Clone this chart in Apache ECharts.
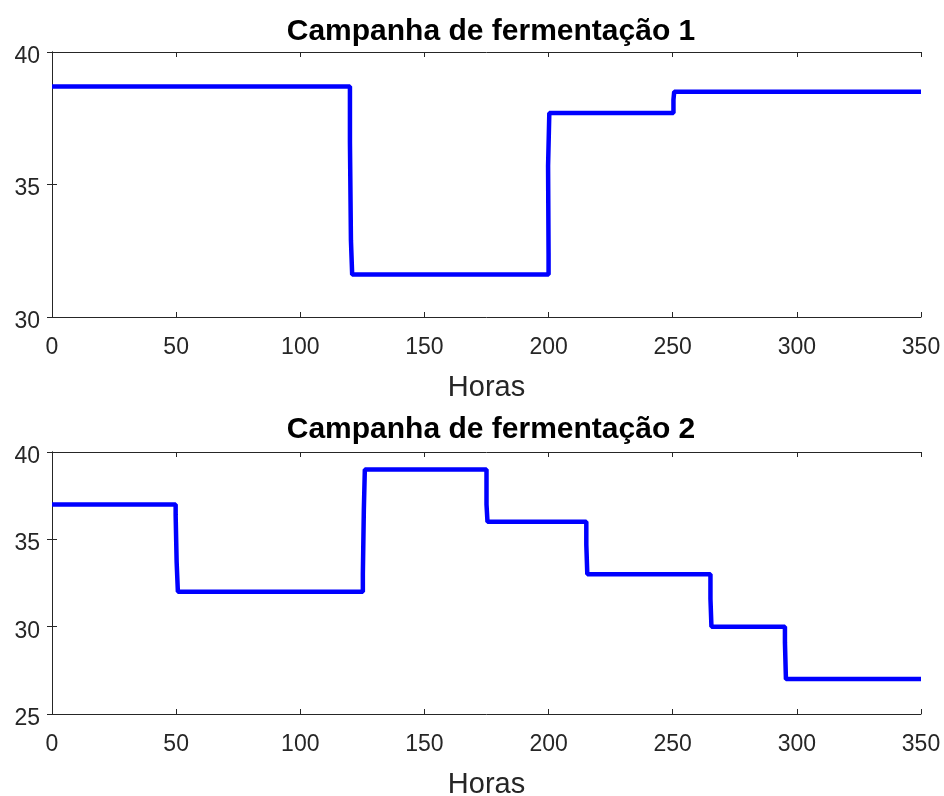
<!DOCTYPE html>
<html>
<head>
<meta charset="utf-8">
<script src="https://cdn.jsdelivr.net/npm/echarts@6/dist/echarts.min.js"></script>
<style>html,body{margin:0;padding:0;background:#fff}#c{width:944px;height:796px}</style>
</head>
<body>
<div id="c"></div>
<script>
// Campanha 1
var hours1 = [0, 120.0, 120.0, 120.4, 120.4, 120.9, 120.9, 200.0, 200.0, 199.8, 199.8, 200.3, 200.3, 250.3, 250.3, 250.6, 250.6, 350];
var temp1  = [38.7, 38.7, 36.6, 36.6, 32.9, 32.9, 31.6, 31.6, 32.4, 32.4, 35.7, 35.7, 37.7, 37.7, 38.2, 38.2, 38.5, 38.5];
// Campanha 2
var hours2 = [0, 49.8, 49.8, 50.2, 50.2, 50.7, 50.7, 125.2, 125.2, 125.6, 125.6, 126.0, 126.0, 175, 175, 175.4, 175.4, 215.2, 215.2, 215.6, 215.6, 265.2, 265.2, 265.6, 265.6, 295.2, 295.2, 295.6, 295.6, 350];
var temp2  = [37, 37, 36.4, 36.4, 33.7, 33.7, 32, 32, 33, 33, 36.7, 36.7, 39, 39, 37, 37, 36, 36, 34.7, 34.7, 33, 33, 31.6, 31.6, 30, 30, 29.1, 29.1, 27, 27];

var titles = ['Campanha de fermentação 1', 'Campanha de fermentação 2'];
var xLabel = 'Horas';
var xTicks = [0, 50, 100, 150, 200, 250, 300, 350];
var yRange1 = [30, 40, 5];
var yRange2 = [25, 40, 5];

function zip(a, b) { return a.map(function (v, i) { return [v, b[i]]; }); }

var FONT = "'Liberation Sans', Arial, sans-serif";
var AX = '#262626';

function xAxes(gi) {
  var base = {
    type: 'value', gridIndex: gi, min: xTicks[0], max: xTicks[xTicks.length - 1],
    interval: xTicks[1] - xTicks[0],
    axisLine: { show: true, lineStyle: { color: AX, width: 1 } },
    axisTick: { show: true, inside: true, length: 5, lineStyle: { color: AX } },
    splitLine: { show: false }
  };
  var bottom = Object.assign({}, base, {
    position: 'bottom',
    name: xLabel, nameLocation: 'middle', nameGap: 56,
    nameTextStyle: { fontFamily: FONT, fontSize: 29, color: AX },
    axisLabel: { show: true, margin: 19, fontFamily: FONT, fontSize: 23, color: AX }
  });
  var top = Object.assign({}, base, { position: 'top', axisLabel: { show: false } });
  return [bottom, top];
}
function yAxes(gi, r) {
  var base = {
    type: 'value', gridIndex: gi, min: r[0], max: r[1], interval: r[2],
    axisLine: { show: true, lineStyle: { color: AX, width: 1 } },
    axisTick: { show: true, inside: true, length: 5, lineStyle: { color: AX } },
    splitLine: { show: false }
  };
  var left = Object.assign({}, base, {
    position: 'left',
    axisLabel: { show: true, margin: 12, fontFamily: FONT, fontSize: 23, color: AX,
      formatter: '{v|{value}}',
      rich: { v: { fontFamily: FONT, fontSize: 23, color: AX, padding: [9, 0, 0, 0] } } }
  });
  var right = Object.assign({}, base, { position: 'right', axisLabel: { show: false } });
  return [left, right];
}

var chart = echarts.init(document.getElementById('c'), null, { renderer: 'canvas' });
chart.setOption({
  animation: false,
  backgroundColor: '#ffffff',
  title: [
    { text: titles[0], left: 486, top: 12, textAlign: 'center',
      textStyle: { fontFamily: FONT, fontSize: 30, fontWeight: 'bold', color: '#000' } },
    { text: titles[1], left: 486, top: 410, textAlign: 'center',
      textStyle: { fontFamily: FONT, fontSize: 30, fontWeight: 'bold', color: '#000' } }
  ],
  grid: [
    { left: 52, right: 23, top: 52, height: 265, containLabel: false, outerBoundsMode: 'none' },
    { left: 52, right: 23, top: 452, height: 262, containLabel: false, outerBoundsMode: 'none' }
  ],
  xAxis: xAxes(0).concat(xAxes(1)),
  yAxis: yAxes(0, yRange1).concat(yAxes(1, yRange2)),
  series: [
    { type: 'line', xAxisIndex: 0, yAxisIndex: 0, data: zip(hours1, temp1),
      showSymbol: false, symbol: 'none', lineStyle: { color: '#0000ff', width: 4.5 } },
    { type: 'line', xAxisIndex: 2, yAxisIndex: 2, data: zip(hours2, temp2),
      showSymbol: false, symbol: 'none', lineStyle: { color: '#0000ff', width: 4.5 } }
  ]
});
</script>
</body>
</html>
